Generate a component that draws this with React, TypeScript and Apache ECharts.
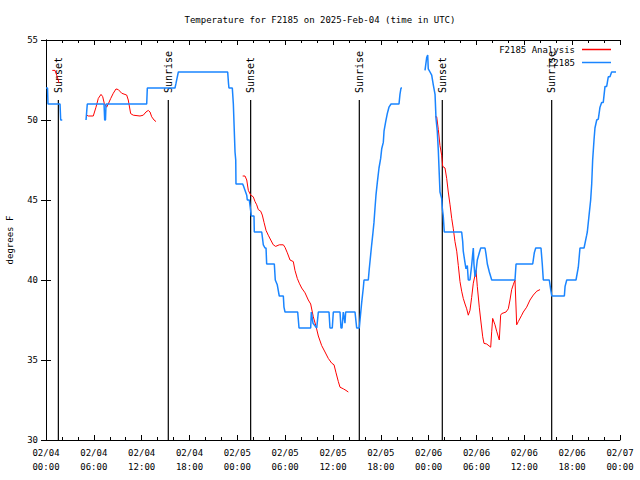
import React, { useEffect, useRef } from "react";
import * as echarts from "echarts";

// Hours since 2025-02-04 00:00 UTC
const START_UTC = Date.UTC(2025, 1, 4, 0, 0);

const analysisHours = [
  0.79, 1.13, 1.34, 1.54, 1.63, 1.7,
  5.11, 5.31, 5.93, 6.27, 6.56, 6.9, 7.11, 7.31, 7.61, 7.81, 8.12, 8.44, 8.78, 9.07, 9.5, 10.12, 10.32, 10.62, 10.95, 11.79, 12.2, 12.54, 12.83, 13.05, 13.26, 13.55, 13.8, 13.9,
  24.67, 24.96, 25.18, 25.38, 25.68, 26.0, 26.22, 26.43, 26.63, 26.93, 27.13, 27.35, 27.6, 27.88, 28.19, 28.51, 28.81, 29.26, 29.77, 29.98, 30.27, 30.61, 31.02, 31.23, 31.52, 31.77, 32.07, 32.49, 32.9, 33.2, 33.53, 33.87, 34.16, 34.58, 35.0, 35.41, 35.84, 36.13, 36.38, 36.67, 36.88, 37.29, 37.63, 37.92, 38.0,
  48.8, 49.01, 49.21, 49.42, 49.63, 49.76, 50.05, 50.26, 50.46, 50.68, 50.89, 51.09, 51.3, 51.52, 51.72, 51.93, 52.14, 52.34, 52.56, 52.77, 52.97, 53.18, 53.39, 53.6, 53.94, 54.1, 54.35, 54.53, 54.78, 54.94, 55.28, 55.78, 55.91, 56.03, 56.32, 56.53, 56.86, 57.03, 57.16, 57.7, 57.99, 58.2, 58.41, 58.61, 58.83, 59.04, 59.24, 59.67, 59.87, 60.29, 60.71, 61.13, 61.56, 61.97,
];
const analysisTemps: (number | null)[] = [
  53.1, 53.1, 52.8, 52.5, 52.3, null,
  50.3, 50.25, 50.25, 50.8, 51.35, 51.6, 51.46, 51.04, 50.8, 51.0, 51.35, 51.67, 51.94, 51.9, 51.67, 51.56, 51.25, 50.4, 50.3, 50.25, 50.3, 50.5, 50.6, 50.5, 50.2, 50.0, 49.9, null,
  46.5, 46.5, 46.25, 45.6, 45.3, 45.2, 44.9, 44.7, 44.4, 44.3, 44.06, 43.6, 43.1, 42.8, 42.5, 42.2, 42.1, 42.2, 42.2, 42.04, 41.7, 41.25, 41.15, 40.6, 40.1, 39.8, 39.5, 39.2, 38.75, 38.5, 37.7, 37.1, 36.5, 35.9, 35.5, 35.1, 34.8, 34.7, 34.2, 33.65, 33.3, 33.2, 33.1, 33.0, null,
  50.2, 50.2, 49.4, 48.4, 47.8, 47.1, 47.0, 46.35, 45.5, 44.7, 43.85, 43.2, 42.4, 41.8, 40.9, 39.9, 39.3, 38.85, 38.5, 38.2, 37.8, 38.1, 38.9, 39.8, 40.6, 39.6, 38.3, 37.5, 36.45, 36.04, 36.0, 35.8, 36.8, 37.6, 37.2, 36.8, 36.25, 37.8, 37.9, 38.0, 38.2, 38.75, 39.4, 39.7, 40.0, 37.2, 37.4, 37.8, 38.0, 38.3, 38.75, 39.06, 39.3, 39.4,
];

const obsHours = [
  0, 0.19, 0.25, 1.76, 1.84, 2.04, 2.1,
  5.02, 5.18, 7.28, 7.36, 7.46, 7.53, 12.63, 12.71, 16.18, 16.31, 16.6, 22.79, 22.89, 22.95, 23.37, 23.5, 23.71, 23.8, 23.83,
  24.67, 24.75, 25.18, 25.25, 25.5, 25.68, 25.75, 26.09, 26.13, 27.06, 27.26, 27.47, 27.6, 27.68, 28.64, 28.76, 29.01, 29.26, 29.77, 29.85, 29.98, 31.57, 31.74, 33.2, 33.28, 33.49, 33.96, 34.16, 35.5, 35.62, 35.91, 36.04, 36.88, 37.0, 37.13, 37.29, 37.5, 37.59, 38.76, 38.97, 39.3,
  39.39, 39.6, 39.8, 39.89, 40.43, 40.55, 40.73, 40.85, 40.98, 41.14, 41.27, 41.39, 41.56, 41.77, 41.98, 42.11, 42.31, 42.4, 42.61, 42.81, 43.02, 43.28, 44.28, 44.4, 44.53, 44.65, 44.7,
  47.54, 47.75, 47.88, 47.95, 48.17, 48.38, 48.58, 48.8, 48.92, 49.08, 49.21, 49.33, 49.42, 49.63, 49.71, 49.83, 49.96, 52.14, 52.27, 52.34, 52.55, 52.68, 52.85, 52.97, 53.18, 53.39, 53.52, 53.6, 53.68, 53.81, 53.93, 54.1, 54.35, 54.53, 55.07, 55.2, 55.36, 55.61, 55.91, 58.83, 58.96, 61.05, 61.25, 61.43, 62.09, 62.25, 62.38, 63.13, 63.31, 63.44, 65.02, 65.11, 65.32, 66.48, 66.77, 66.98, 67.49, 67.82, 67.9, 68.15, 68.32, 68.45, 68.57, 68.74, 68.86, 69.08, 69.28, 69.49, 69.7, 69.9, 70.12, 70.33, 70.53, 70.74, 70.95, 71.5,
];
const obsTemps: (number | null)[] = [
  52, 52, 51, 51, 50, 50, null,
  50, 51, 51, 50, 50, 51, 51, 52, 52, 52.3, 53, 53, 52.3, 52, 52, 51, 48, 47.5, 46,
  46, 45.9, 45.3, 45, 45, 44.3, 44, 44, 43, 43, 42.2, 42, 42, 41, 41, 40, 39.7, 39, 39, 38.3, 38, 38, 37, 37, 38, 37.3, 37, 38, 38, 37, 37, 38, 38, 37, 37, 38, 37.3, 38, 38, 37, 37,
  37.5, 38.6, 39.5, 40, 40, 40.7, 41.6, 42.2, 42.8, 43.6, 44.5, 45.3, 46.1, 47, 47.6, 48.2, 48.6, 49.3, 49.9, 50.4, 50.8, 51, 51, 51.6, 52, 52, null,
  53.1, 53.9, 54.06, 53.2, 53, 52.8, 52.2, 51.6, 50.1, 49.3, 48.1, 46.6, 45.5, 45.1, 44.5, 44, 43, 43, 42.4, 41.8, 41.1, 40.7, 40.9, 40, 40, 40.9, 41.6, 42, 41, 40.2, 40.5, 41.25, 41.7, 42, 42, 41.6, 41, 40.5, 40, 40, 41, 41, 41.7, 42, 42, 41, 40, 40, 39.4, 39, 39, 39.6, 40, 40, 40.8, 42, 42, 42.8, 43, 44.2, 45, 46, 47.5, 48.75, 49.5, 50, 50.06, 50.8, 51.1, 51.1, 52.1, 52.1, 52.7, 52.7, 53, 53,
];

const sunHours = [1.55, 15.34, 25.67, 39.3, 49.71, 63.43];
const sunLabels = ["Sunset", "Sunrise", "Sunset", "Sunrise", "Sunset", "Sunrise"];

const FONT = "DejaVu Sans Mono";

function pad(n: number) {
  return n < 10 ? "0" + n : "" + n;
}
function fmtHour(h: number) {
  const d = new Date(START_UTC + h * 3600 * 1000);
  return `${pad(d.getUTCMonth() + 1)}/${pad(d.getUTCDate())}\n${pad(d.getUTCHours())}:${pad(d.getUTCMinutes())}`;
}
function pairs(xs: number[], ys: (number | null)[]) {
  return xs.map((x, i) => [x, ys[i] === null ? "-" : ys[i]]);
}

export default function App() {
  const ref = useRef<HTMLDivElement>(null);
  useEffect(() => {
    if (!ref.current) return;
    const chart = echarts.init(ref.current, null, { renderer: "svg" });
    const axisLine = { show: true, lineStyle: { color: "#000", width: 1 } };
    const xCommon = {
      type: "value" as const,
      min: 0,
      max: 72,
      interval: 6,
      axisLine,
      axisTick: { show: true, inside: true, length: 5, lineStyle: { color: "#000" } },
      minorTick: { show: true, splitNumber: 3, length: 3, lineStyle: { color: "#000" } },
      splitLine: { show: false },
      minorSplitLine: { show: false },
    };
    const yCommon = {
      type: "value" as const,
      min: 30,
      max: 55,
      interval: 5,
      axisLine,
      axisTick: { show: true, inside: true, length: 5, lineStyle: { color: "#000" } },
      splitLine: { show: false },
    };
    chart.setOption({
      animation: false,
      backgroundColor: "#fff",
      textStyle: { fontFamily: FONT },
      title: {
        text: "Temperature for F2185 on 2025-Feb-04 (time in UTC)",
        left: "center",
        top: 10,
        textStyle: { fontFamily: FONT, fontSize: 9, fontWeight: "normal", color: "#000" },
      },
      legend: {
        data: [
          { name: "F2185 Analysis", icon: "rect" },
          { name: "F2185", icon: "rect" },
        ],
        orient: "vertical",
        right: 24,
        top: 39,
        align: "right",
        itemWidth: 29,
        itemHeight: 1.5,
        itemGap: 2,
        textStyle: { fontFamily: FONT, fontSize: 9, color: "#000", lineHeight: 11, padding: [0, 2, 0, 0] },
      },
      grid: { left: 46, right: 20, top: 40, bottom: 40, containLabel: false, outerBoundsMode: "none" },
      xAxis: [
        {
          ...xCommon,
          position: "bottom",
          axisLabel: {
            show: true,
            formatter: (v: number) => fmtHour(v),
            fontFamily: FONT,
            fontSize: 9,
            color: "#000",
            lineHeight: 14,
            margin: 6,
          },
        },
        { ...xCommon, position: "top", axisLabel: { show: false } },
      ],
      yAxis: [
        {
          ...yCommon,
          position: "left",
          name: "degrees F",
          nameLocation: "middle",
          nameGap: 32,
          nameTextStyle: { fontFamily: FONT, fontSize: 9, color: "#000" },
          axisLabel: { fontFamily: FONT, fontSize: 9, color: "#000", margin: 8 },
        },
        { ...yCommon, position: "right", axisLabel: { show: false } },
      ],
      series: [
        {
          type: "custom",
          name: "sun",
          xAxisIndex: 0,
          yAxisIndex: 0,
          silent: true,
          z: 1,
          data: sunHours.map((h) => [h, 30]),
          renderItem: (params: any, api: any) => {
            const h = api.value(0);
            const p0 = api.coord([h, 30]);
            const p1 = api.coord([h, 51.25]);
            return {
              type: "group",
              children: [
                {
                  type: "line",
                  shape: { x1: p0[0], y1: p0[1], x2: p1[0], y2: p1[1] },
                  style: { stroke: "#000", lineWidth: 1.2 },
                },
                {
                  type: "text",
                  x: p1[0],
                  y: p1[1] - 7,
                  rotation: Math.PI / 2,
                  style: {
                    text: sunLabels[params.dataIndex],
                    font: `10px ${FONT}`,
                    fill: "#000",
                    align: "left",
                    verticalAlign: "middle",
                  },
                },
              ],
            };
          },
        },
        {
          type: "line",
          name: "F2185 Analysis",
          xAxisIndex: 0,
          yAxisIndex: 0,
          symbol: "none",
          showSymbol: false,
          z: 2,
          color: "#ff0000",
          lineStyle: { color: "#ff0000", width: 1 },
          data: pairs(analysisHours, analysisTemps),
        },
        {
          type: "line",
          name: "F2185",
          xAxisIndex: 0,
          yAxisIndex: 0,
          symbol: "none",
          showSymbol: false,
          z: 3,
          color: "#1a85ff",
          lineStyle: { color: "#1a85ff", width: 1.5 },
          data: pairs(obsHours, obsTemps),
        },
      ],
    });
    return () => chart.dispose();
  }, []);
  return (
    <div
      ref={ref}
      style={{ position: "fixed", left: 0, top: 0, width: 640, height: 480, background: "#fff" }}
    />
  );
}
